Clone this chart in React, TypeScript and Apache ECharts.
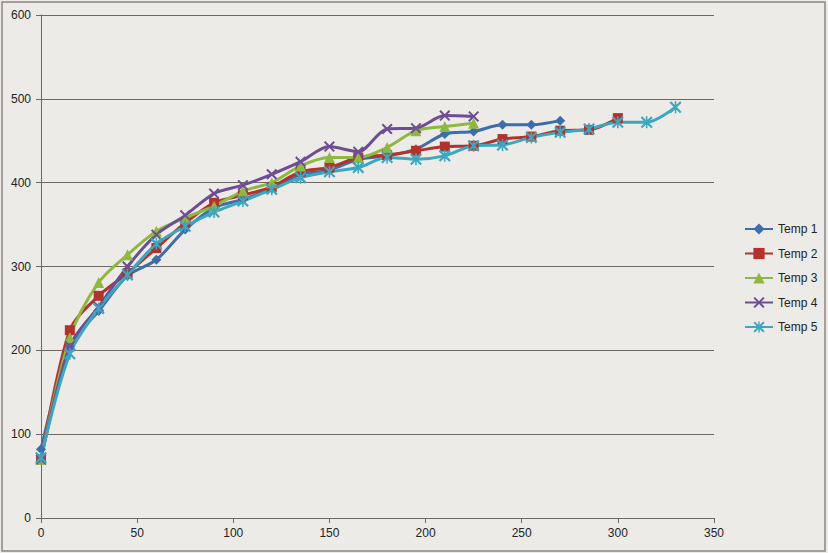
import React, { useEffect, useRef } from "react";
import * as echarts from "echarts";

const xStep = [0, 15, 30, 45, 60, 75, 90, 105, 120, 135, 150, 165, 180, 195, 210, 225, 240, 255, 270, 285, 300, 315, 330];
const seriesNames = ["Temp 1", "Temp 2", "Temp 3", "Temp 4", "Temp 5"];
const temp1 = [82, 205, 247, 289, 308, 344, 370, 380, 393, 410, 415, 428, 432, 440, 458, 461, 469, 469, 474];
const temp2 = [70, 224, 265, 292, 322, 352, 376, 385, 395, 413, 418, 430, 433, 438, 443, 444, 452, 455, 462, 463, 477];
const temp3 = [70, 215, 281, 314, 342, 358, 372, 390, 400, 420, 430, 430, 442, 462, 467, 471];
const temp4 = [70, 205, 252, 300, 338, 361, 387, 397, 410, 425, 443, 437, 464, 465, 480, 479];
const temp5 = [72, 196, 250, 290, 327, 348, 365, 378, 392, 406, 413, 418, 430, 428, 432, 444, 445, 454, 460, 464, 472, 472, 490];
const yTicks = [0, 100, 200, 300, 400, 500, 600];
const xTicks = [0, 50, 100, 150, 200, 250, 300, 350];

const colors = ["#3D6DAA", "#B3332C", "#8FB840", "#6E4E93", "#3BA7C0"];
const X_PATH = "path://M0,1.3 L1.3,0 L10,8.7 L8.7,10 Z M8.7,0 L10,1.3 L1.3,10 L0,8.7 Z";
const STAR_PATH = "path://M0,1.3 L1.3,0 L10,8.7 L8.7,10 Z M8.7,0 L10,1.3 L1.3,10 L0,8.7 Z M4.35,0 L5.65,0 L5.65,10 L4.35,10 Z";
const symbols = ["diamond", "rect", "triangle", X_PATH, STAR_PATH];
const symbolSizes = [10, 10, 11, 11, 12];

export default function App() {
  const ref = useRef<HTMLDivElement>(null);
  useEffect(() => {
    document.body.style.margin = "0";
    const chart = echarts.init(ref.current!, undefined, { renderer: "svg" });
    const all = [temp1, temp2, temp3, temp4, temp5];
    const axisColor = "#6E6864";
    chart.setOption({
      animation: false,
      backgroundColor: "#EDEBE8",
      color: colors,
      textStyle: { fontFamily: "Liberation Sans, Arial, sans-serif" },
      grid: { left: 41, right: 114, top: 15, bottom: 35, containLabel: false },
      graphic: [
        {
          type: "rect",
          shape: { x: 2, y: 2, width: 823, height: 549 },
          style: { fill: "none", stroke: "#8C8782", lineWidth: 1.5 },
          silent: true,
        },
      ],
      legend: {
        orient: "vertical",
        left: 739,
        top: 218,
        itemWidth: 28,
        itemHeight: 14,
        itemGap: 12.5,
        data: seriesNames,
        textStyle: { fontSize: 12, color: "#222", fontFamily: "Liberation Sans, Arial, sans-serif" },
      },
      xAxis: {
        type: "value",
        min: 0,
        max: xTicks[xTicks.length - 1],
        interval: 50,
        axisLine: { show: true, onZero: false, lineStyle: { color: axisColor, width: 1 } },
        axisTick: { show: true, length: 5, lineStyle: { color: axisColor } },
        axisLabel: { fontSize: 12, color: "#222", margin: 9 },
        splitLine: { show: false },
      },
      yAxis: {
        type: "value",
        min: 0,
        max: yTicks[yTicks.length - 1],
        interval: 100,
        axisLine: { show: true, lineStyle: { color: axisColor, width: 1 } },
        axisTick: { show: true, length: 5, lineStyle: { color: axisColor } },
        axisLabel: { fontSize: 12, color: "#222", margin: 10 },
        splitLine: { show: true, lineStyle: { color: axisColor, width: 1 } },
      },
      series: all.map((vals, i) => ({
        name: seriesNames[i],
        type: "line",
        smooth: 0.3,
        data: vals.map((v, j) => [xStep[j], v]),
        symbol: symbols[i],
        symbolSize: symbolSizes[i],
        showAllSymbol: true,
        lineStyle: { width: 3, color: colors[i] },
        itemStyle: { color: colors[i] },
      })),
    });
    return () => chart.dispose();
  }, []);
  return <div ref={ref} style={{ width: 828, height: 553 }} />;
}
